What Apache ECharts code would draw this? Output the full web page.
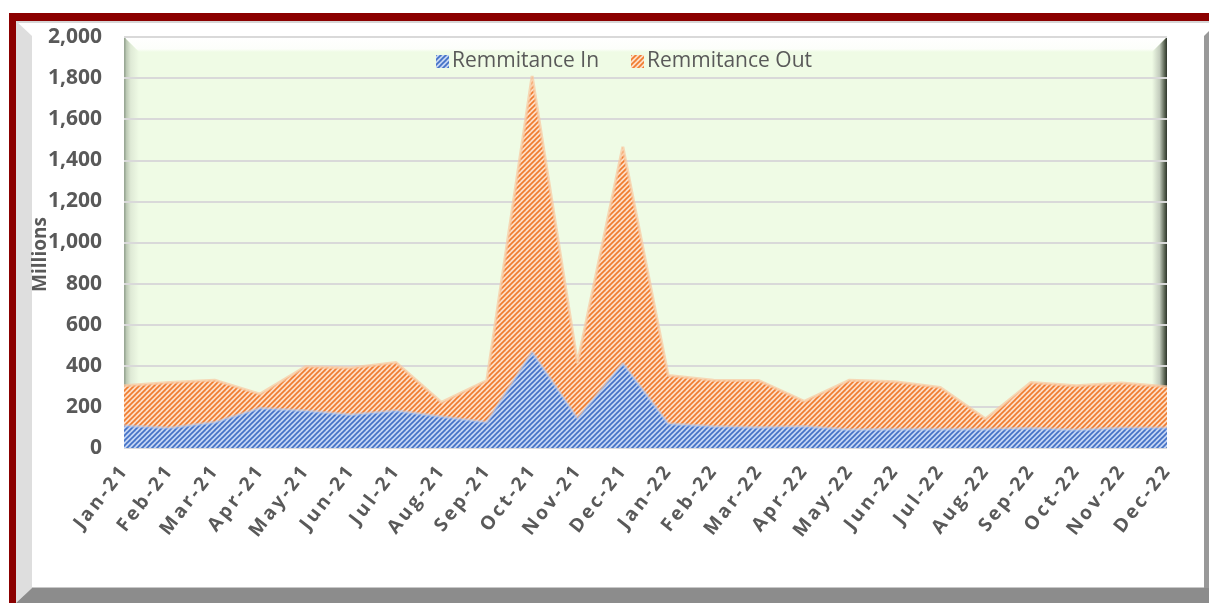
<!DOCTYPE html>
<html>
<head>
<meta charset="utf-8">
<script src="https://cdn.jsdelivr.net/npm/echarts@6/dist/echarts.min.js"></script>
<style>
html,body{margin:0;padding:0;background:#fff;}
#chart{width:1209px;height:603px;}
</style>
</head>
<body>
<div id="chart"></div>
<script>
// ---- data ----
const categories = ['Jan-21','Feb-21','Mar-21','Apr-21','May-21','Jun-21','Jul-21','Aug-21','Sep-21','Oct-21','Nov-21','Dec-21',
                    'Jan-22','Feb-22','Mar-22','Apr-22','May-22','Jun-22','Jul-22','Aug-22','Sep-22','Oct-22','Nov-22','Dec-22'];
const remitIn  = [108, 97, 125, 194, 181, 162, 181, 152, 125, 467, 143, 412,
                  118, 105, 100, 105, 89, 91, 91, 91, 96, 87, 97, 97];
const remitOut = [195, 222, 205, 68, 214, 227, 235, 70, 203, 1343, 269, 1054,
                  235, 225, 228, 122, 241, 231, 204, 50, 223, 216, 219, 201];
const seriesNames = ['Remmitance In', 'Remmitance Out'];
const yTicks = {min: 0, max: 2000, interval: 200};

// ---- hatch patterns ----
function hatch(base, stripe) {
  const n = 5;
  const c = document.createElement('canvas');
  c.width = n; c.height = n;
  const g = c.getContext('2d');
  g.fillStyle = base; g.fillRect(0, 0, n, n);
  g.strokeStyle = stripe; g.lineWidth = 1.7;
  for (let k = -1; k <= 1; k++) {
    g.beginPath();
    g.moveTo(-1 + k * n, n + 1);
    g.lineTo(n + 1 + k * n, -1);
    g.stroke();
  }
  return {image: c, repeat: 'repeat'};
}
const bluePat = hatch('#c6d6f4', '#4371c6');
const orangePat = hatch('#fde0ca', '#ef7c2f');

const G = {l: 124, r: 1167, t: 37, b: 448};
const bg = '#effbe5';
const labelFont = {fontFamily: 'Open Sans', fontWeight: 'bold', fontSize: 19, color: '#595959'};

const chart = echarts.init(document.getElementById('chart'), null, {renderer: 'canvas'});
chart.setOption({
  backgroundColor: '#ffffff',
  animation: false,
  grid: {left: G.l, right: 1209 - G.r, top: G.t, bottom: 603 - G.b, containLabel: false},
  legend: {
    data: seriesNames,
    left: 431, top: 46,
    itemWidth: 13, itemHeight: 13, itemGap: 32,
    icon: 'rect',
    textStyle: {fontFamily: 'Open Sans', fontSize: 21, color: '#595959', padding: [0, 0, 0, -2]}
  },
  xAxis: {
    type: 'category', data: categories, boundaryGap: false,
    axisLine: {show: false}, axisTick: {show: false}, splitLine: {show: false},
    axisLabel: Object.assign({interval: 0, rotate: 52, margin: 20,
      formatter: v => v.split('').map(ch => '{c|' + ch + '}').join(''),
      rich: {c: Object.assign({padding: [0, 1.5, 0, 1.5]}, labelFont)}}, labelFont)
  },
  yAxis: {
    type: 'value', min: yTicks.min, max: yTicks.max, interval: yTicks.interval,
    name: 'Millions', nameLocation: 'middle', nameRotate: 90, nameGap: 74, nameMoveOverlap: false,
    nameTextStyle: {fontFamily: 'Open Sans', fontWeight: 'bold', fontSize: 19, color: '#595959', padding: [0, 24, 0, 0]},
    axisLine: {show: false}, axisTick: {show: false},
    axisLabel: {margin: 22, color: '#595959', fontFamily: 'Open Sans', fontWeight: 'bold', fontSize: 21,
      formatter: v => v.toLocaleString('en-US')},
    splitLine: {lineStyle: {color: '#d9d9d9', width: 2}}
  },
  graphic: [
    // outer frame
    {type: 'rect', z: -10, shape: {x: 9, y: 13, width: 1200, height: 8}, style: {fill: '#8b0000'}},
    {type: 'rect', z: -10, shape: {x: 9, y: 13, width: 7, height: 590}, style: {fill: '#8b0000'}},
    {type: 'rect', z: -10, shape: {x: 16, y: 21, width: 1193, height: 2}, style: {fill: '#d6d6d6'}},
    {type: 'polygon', z: -10, shape: {points: [[16, 21], [32, 36], [32, 588], [16, 603]]}, style: {fill: '#dedede'}},
    {type: 'polygon', z: -10, shape: {points: [[16, 603], [32, 588], [1204, 588], [1209, 588], [1209, 603]]}, style: {fill: '#8c8c8c'}},
    {type: 'rect', z: -10, shape: {x: 32, y: 587, width: 1172, height: 1}, style: {fill: '#c8c8c8'}},
    {type: 'polygon', z: -10, shape: {points: [[1204, 36], [1209, 31], [1209, 588], [1204, 588]]}, style: {fill: '#999999'}},
    // plot area with bevel
    {type: 'rect', z: -9, shape: {x: G.l, y: G.t, width: G.r - G.l, height: G.b - G.t}, style: {fill: bg}},
    {type: 'polygon', z: -8, shape: {points: [[G.l, G.t], [G.r, G.t], [G.r - 15, G.t + 15], [G.l + 15, G.t + 15]]},
      style: {fill: new echarts.graphic.LinearGradient(0, 0, 0, 1, [{offset: 0, color: '#ffffff'}, {offset: 0.8, color: '#fcfefa'}, {offset: 1, color: bg}])}},
    {type: 'polygon', z: -8, shape: {points: [[G.l, G.t], [G.l + 15, G.t + 15], [G.l + 15, G.b - 15], [G.l, G.b]]},
      style: {fill: new echarts.graphic.LinearGradient(0, 0, 1, 0, [{offset: 0, color: '#a9b7a2'}, {offset: 0.45, color: '#dfead6'}, {offset: 1, color: bg}])}},
    {type: 'polygon', z: -8, shape: {points: [[G.r, G.t], [G.r - 15, G.t + 15], [G.r - 15, G.b - 15], [G.r, G.b]]},
      style: {fill: new echarts.graphic.LinearGradient(0, 0, 1, 0, [{offset: 0, color: bg}, {offset: 0.5, color: '#c3ccbd'}, {offset: 0.85, color: '#56604f'}, {offset: 1, color: '#2e352b'}])}},
    {type: 'rect', z: -7, shape: {x: G.l, y: G.t - 1, width: G.r - G.l, height: 2}, style: {fill: '#d4d4d4'}},
    {type: 'rect', z: -7, shape: {x: G.l, y: G.t, width: 1.5, height: G.b - G.t}, style: {fill: '#9aa895'}}
  ],
  series: [
    {
      name: seriesNames[0], type: 'line', stack: 'total', data: remitIn,
      showSymbol: false, symbol: 'none',
      itemStyle: {color: bluePat},
      lineStyle: {color: 'rgba(180,200,240,0.5)', width: 3},
      areaStyle: {color: bluePat, opacity: 1}
    },
    {
      name: seriesNames[1], type: 'line', stack: 'total', data: remitOut,
      showSymbol: false, symbol: 'none',
      itemStyle: {color: orangePat},
      lineStyle: {color: 'rgba(250,200,160,0.7)', width: 3},
      areaStyle: {color: orangePat, opacity: 1}
    }
  ]
});
</script>
</body>
</html>
